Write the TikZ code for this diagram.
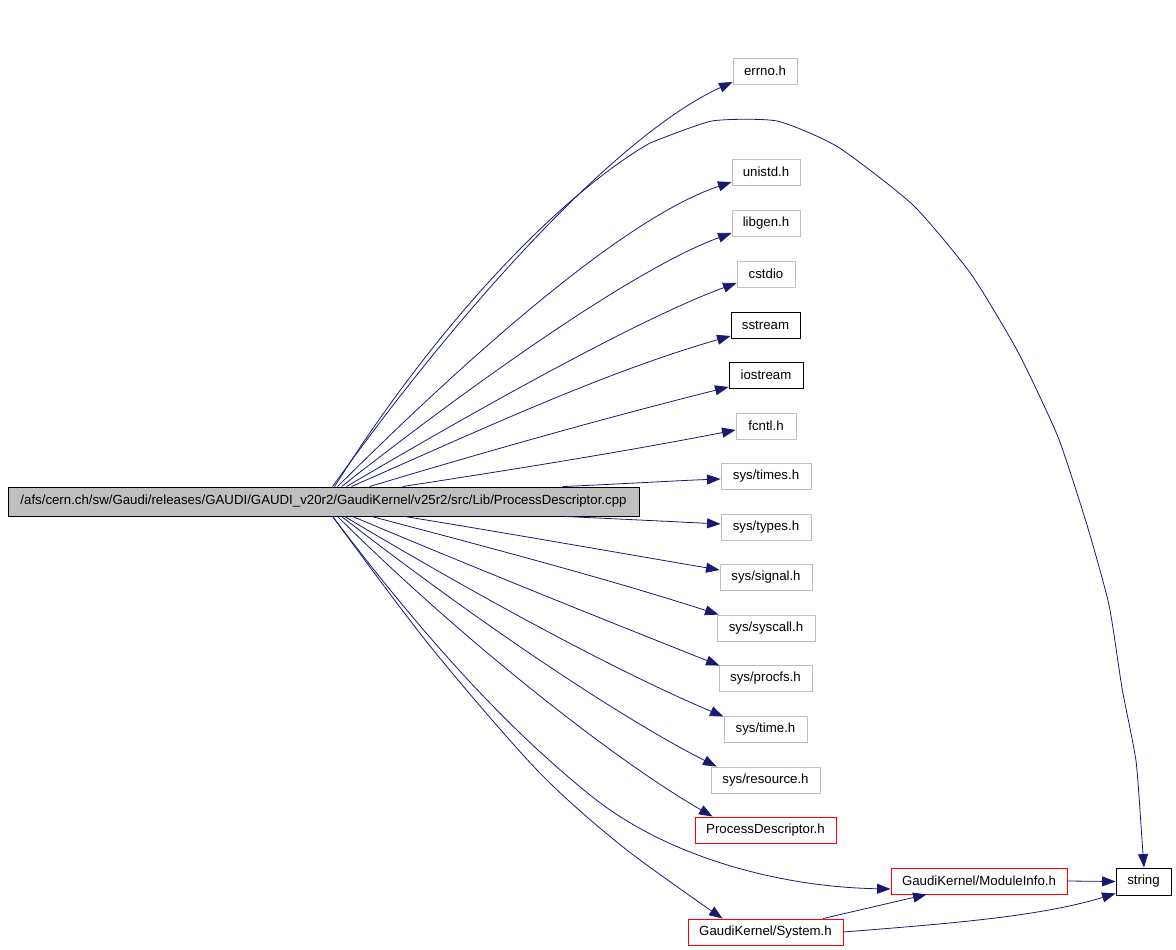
\documentclass[tikz,border=0pt]{standalone}
\usepackage{fontspec}
\setmainfont{Liberation Sans}
\usetikzlibrary{arrows.meta}
\definecolor{edgeblue}{RGB}{25,25,112}
\definecolor{boxgray}{RGB}{191,191,191}
\definecolor{boxred}{RGB}{255,0,0}
\tikzset{
  nbox/.style={draw=boxgray, line width=0.9pt, minimum height=26pt, inner sep=0pt,
    font=\fontsize{13.25}{15}\selectfont, text=black},
  bbox/.style={nbox, draw=black},
  rbox/.style={nbox, draw=boxred},
  mainbox/.style={nbox, draw=black, fill=boxgray, minimum height=29pt},
  edge/.style={draw=edgeblue, line width=0.8pt, -{Triangle[length=13.5pt,width=10pt]}, fill=none},
}
\begin{document}
\begin{tikzpicture}[x=1pt,y=1pt]
\useasboundingbox (0,0) rectangle (1176,-950);
% nodes
\node[mainbox, minimum width=631pt] (main) at (323.5,-501.5) {/afs/cern.ch/sw/Gaudi/releases/GAUDI/GAUDI\_v20r2/GaudiKernel/v25r2/src/Lib/ProcessDescriptor.cpp};
\node[nbox, minimum width=64pt] (errno) at (765,-71) {errno.h};
\node[nbox, minimum width=68pt] (unistd) at (766,-172) {unistd.h};
\node[nbox, minimum width=68pt] (libgen) at (766,-223) {libgen.h};
\node[nbox, minimum width=58pt] (cstdio) at (766,-274) {cstdio};
\node[bbox, minimum width=69pt] (sstream) at (765.5,-325) {sstream};
\node[bbox, minimum width=74pt] (iostream) at (766,-375) {iostream};
\node[nbox, minimum width=60pt] (fcntl) at (766,-426) {fcntl.h};
\node[nbox, minimum width=90pt] (times) at (766,-476) {sys/times.h};
\node[nbox, minimum width=90pt] (types) at (766,-527) {sys/types.h};
\node[nbox, minimum width=92pt] (signal) at (766,-577) {sys/signal.h};
\node[nbox, minimum width=98pt] (syscall) at (766,-628) {sys/syscall.h};
\node[nbox, minimum width=93pt] (procfs) at (765.5,-678) {sys/procfs.h};
\node[nbox, minimum width=83pt] (systime) at (765.5,-729) {sys/time.h};
\node[nbox, minimum width=109pt] (resource) at (765.5,-780) {sys/resource.h};
\node[rbox, minimum width=141pt] (pd) at (765.5,-830) {ProcessDescriptor.h};
\node[rbox, minimum width=176pt] (mi) at (979,-881) {GaudiKernel/ModuleInfo.h};
\node[bbox, minimum width=55pt, minimum height=27pt] (string) at (1143.5,-881.5) {string};
\node[rbox, minimum width=155pt] (system) at (765.5,-932) {GaudiKernel/System.h};
% upper edges
\draw[edge] ([xshift=325pt]main.north west) .. controls (472.3,-291.6) and (623.4,-131.8) .. ([yshift=-11pt]errno.west);
\draw[edge] ([xshift=327pt]main.north west) .. controls (441,-317.4) and (563.4,-193) .. (650,-143)
  -- plot[smooth, tension=0.35] coordinates {(650,-143) (712,-121) (777,-121) (838,-147) (913,-205) (971,-274) (1018,-352) (1058,-437) (1087,-525) (1109,-605) (1122,-688) (1136,-761) (1142,-840) ([xshift=0.5pt]string.north)};
\draw[edge] ([xshift=330pt]main.north west) .. controls (479.4,-345.6) and (627.6,-216.7) .. ([yshift=-10pt]unistd.west);
\draw[edge] ([xshift=334pt]main.north west) .. controls (483.2,-375.5) and (638,-267.2) .. ([yshift=-10pt]libgen.west);
\draw[edge] ([xshift=339pt]main.north west) .. controls (484.5,-405.1) and (643,-317.2) .. ([yshift=-9pt]cstdio.west);
\draw[edge] ([xshift=344pt]main.north west) .. controls (489,-426) and (606,-371.8) .. ([yshift=-11pt]sstream.west);
\draw[edge] ([xshift=362pt]main.north west) .. controls (494.3,-449) and (612.6,-416) .. ([yshift=-12pt]iostream.west);
\draw[edge] ([xshift=395pt]main.north west) .. controls (521.5,-468.2) and (628,-451) .. ([yshift=-4pt]fcntl.west);
\draw[edge] ([xshift=555pt]main.north west) .. controls (620,-484) and (680,-480.5) .. ([yshift=-3pt]times.west);
% lower edges
\draw[edge] ([xshift=557pt]main.south west) .. controls (620,-519) and (680,-522) .. ([yshift=3pt]types.west);
\draw[edge] ([xshift=397pt]main.south west) .. controls (513.5,-534.2) and (622.2,-553.4) .. ([yshift=7pt]signal.west);
\draw[edge] ([xshift=364pt]main.south west) .. controls (507.2,-552.2) and (614.4,-581) .. ([xshift=2pt]syscall.north west);
\draw[edge] ([xshift=345pt]main.south west) .. controls (491.1,-574.6) and (610,-622) .. ([xshift=1pt,yshift=-1pt]procfs.north west);
\draw[edge] ([xshift=337pt]main.south west) .. controls (490.7,-603.6) and (622.7,-674) .. ([yshift=-1pt]systime.north west);
\draw[edge] ([xshift=334pt]main.south west) .. controls (476,-620.7) and (619,-717) .. ([xshift=6pt]resource.north west);
\draw[edge] ([xshift=330pt]main.south west) .. controls (465.3,-643.3) and (617.7,-762) .. ([xshift=18pt]pd.north west);
\draw[edge] ([xshift=325pt]main.south west) .. controls (441.3,-659.8) and (520.1,-738.4) .. (590,-795) .. controls (667.7,-857.9) and (781,-887) .. ([yshift=-8pt]mi.west);
\draw[edge] plot[smooth, tension=0.5] coordinates {([xshift=325pt]main.south west) (430,-646) (537,-770) (623,-847) ([xshift=35pt]system.north west)};
% right-hand edges
\draw[edge] ([xshift=57.5pt]system.north) -- ([xshift=36pt]mi.south west);
\draw[edge] (system.east) .. controls (952.7,-923.3) and (1040.5,-916.4) .. ([yshift=2pt]string.south west);
\draw[edge] (mi.east) -- (string.west);
\end{tikzpicture}
\end{document}
